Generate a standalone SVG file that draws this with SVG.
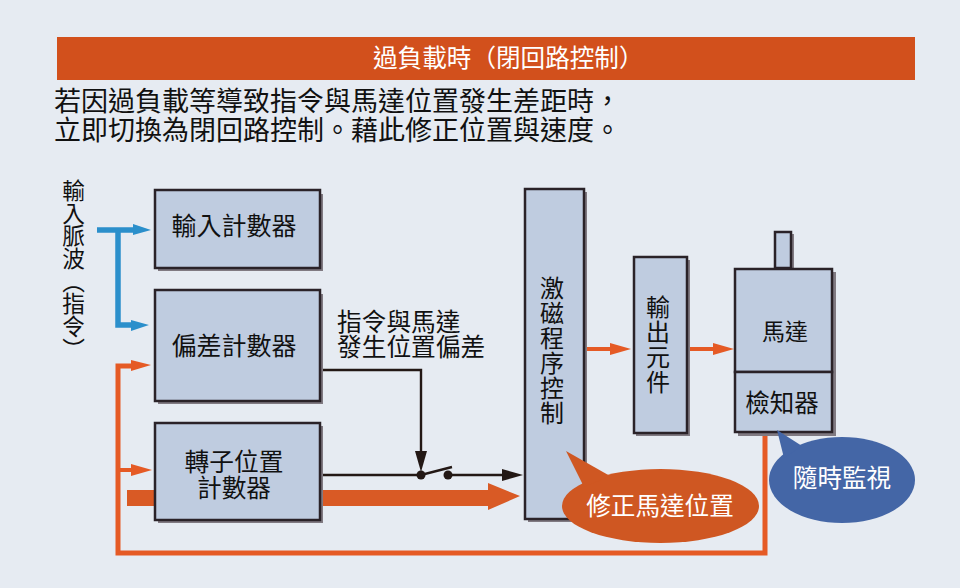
<svg xmlns="http://www.w3.org/2000/svg" width="960" height="588" viewBox="0 0 960 588">
<style>
text{font-family:"Liberation Sans","Noto Sans CJK TC",sans-serif;fill:#111}
.b{fill:#bfcce0;stroke:#2a2228;stroke-width:2.5}
.s{fill:#807a82}
.t{font-size:25px;text-anchor:middle}
.n{font-size:24px;text-anchor:middle}
.w{font-size:24.6px;text-anchor:middle;fill:#fff}
.o{fill:none;stroke:#e55a25;stroke-width:4}
.of{fill:#e55a25}
.k{fill:none;stroke:#231815;stroke-width:2.4}
.kf{fill:#231815}
</style>
<rect width="960" height="588" fill="#e6ebf2"/>
<g id="title"><rect x="57" y="37" width="858" height="43" fill="#d2501c"/>
<text x="373" y="67" font-size="24.6" style="fill:#fff">過負載時（閉回路控制）</text></g>
<g id="intro"><text x="54" y="111" font-size="27">若因過負載等導致指令與馬達位置發生差距時，</text>
<text x="54" y="140" font-size="27">立即切換為閉回路控制。藉此修正位置與速度。</text></g>

<g id="input-label"><text x="72" y="179" font-size="22.7" style="writing-mode:vertical-rl">輸入脈波（指令）</text></g>

<g id="connectors">
<path d="M97 230H135M118 230V325H135" fill="none" stroke="#2b8fcb" stroke-width="5.5"/>
<path d="M133 224L151 230L133 235Z M131 320L149 325L131 331Z" fill="#2b8fcb"/>
<path class="o" d="M135 366H118V553H765V433" style="stroke-width:5"/>
<path class="of" d="M131 360L151 365L131 371Z"/>
<path class="o" d="M118 470H134"/><path class="of" d="M131 464L152 470L131 476Z"/>
<path d="M127 490H155V506H127Z M321 490H488V483L520 496L488 510V506H321Z" fill="#d95a25"/>
<path class="o" d="M585 349H612"/><path class="of" d="M610 343L631 349L610 355Z"/>
<path class="o" d="M687 349H714"/><path class="of" d="M713 343L734 349L713 355Z"/>
<path class="k" d="M321 370H421V455"/><path class="kf" d="M415 451H427L421 472Z"/>
<path class="k" d="M321 475H421L452 467"/><circle class="kf" cx="421" cy="475" r="4.5"/><circle class="kf" cx="448" cy="475" r="4.5"/>
<path class="k" d="M448 475H505"/><path class="kf" d="M502 469L523 475L502 481Z"/>
</g>

<g id="counter-in"><rect class="s" x="158" y="194" width="165" height="77"/><rect class="b" x="155" y="190" width="165" height="78"/><text class="t" x="234" y="235">輸入計數器</text></g>
<g id="counter-diff"><rect class="s" x="158" y="294" width="165" height="110"/><rect class="b" x="155" y="290" width="165" height="111"/><text class="t" x="234" y="355">偏差計數器</text></g>
<g id="counter-rotor"><rect class="s" x="158" y="426" width="165" height="97"/><rect class="b" x="155" y="423" width="165" height="97"/><text class="n" x="234" y="471" style="font-size:24.7px">轉子位置</text><text class="n" x="234" y="497" style="font-size:24.7px">計數器</text></g>
<g id="diff-label"><text x="337" y="331" font-size="24.7">指令與馬達</text><text x="337" y="356" font-size="24.7">發生位置偏差</text></g>

<g id="exciter"><rect class="s" x="528" y="192" width="59" height="330"/><rect class="b" x="525" y="189" width="59" height="330"/>
<text class="n" x="552" y="297">激</text><text class="n" x="552" y="322">磁</text><text class="n" x="552" y="347">程</text><text class="n" x="552" y="372">序</text><text class="n" x="552" y="397">控</text><text class="n" x="552" y="422">制</text></g>
<g id="output"><rect class="s" x="636" y="260" width="54" height="176"/><rect class="b" x="634" y="257" width="53" height="176"/>
<text class="n" x="658" y="316">輸</text><text class="n" x="658" y="341">出</text><text class="n" x="658" y="366">元</text><text class="n" x="658" y="391">件</text></g>
<g id="motor"><rect class="s" x="778" y="234" width="16" height="36"/><rect class="b" x="775" y="232" width="16" height="36" stroke-width="2"/>
<rect class="s" x="738" y="272" width="98" height="164"/><rect class="b" x="735" y="269" width="97" height="103"/><text x="785" y="340" font-size="23" text-anchor="middle">馬達</text></g>
<g id="detector"><rect class="b" x="735" y="372" width="97" height="60"/><text x="782" y="412" font-size="24.5" text-anchor="middle">檢知器</text></g>

<g id="bubble-fix"><ellipse cx="660.5" cy="506" rx="98.5" ry="37" fill="#cf5722"/><path d="M566 451L610 476L584 487Z" fill="#cf5722"/><text class="w" style="fill:#fff" x="660" y="515">修正馬達位置</text></g>
<g id="bubble-watch"><ellipse cx="842" cy="480" rx="73" ry="43" fill="#4466a6"/><path d="M777 430L802 446L784 458Z" fill="#4466a6"/><text class="w" style="fill:#fff" x="842" y="487">隨時監視</text></g>
</svg>
